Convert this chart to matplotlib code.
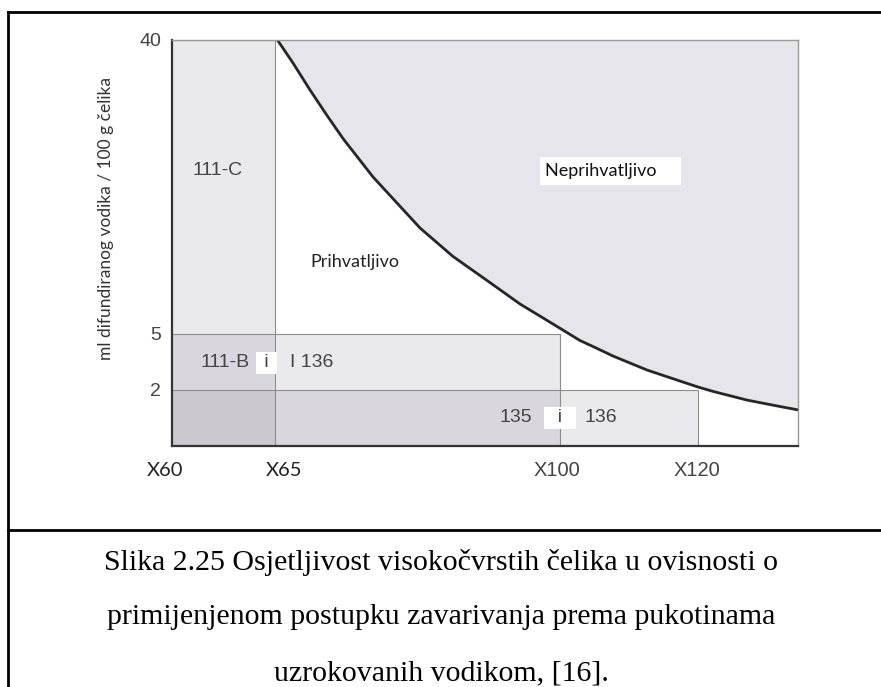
import matplotlib.pyplot as plt
import numpy as np
from matplotlib.lines import Line2D
from matplotlib.transforms import offset_copy

# granice čvrstoće čelika (os x) i sadržaj vodika (os y)
grades = [60, 65, 100, 120]
grade_labels = ['X60', 'X65', 'X100', 'X120']
x_end = 135
h_ticks = [40, 5, 2]
h_top = 40

# granična krivulja (očitano sa slike)
curve_x = [65.3, 67.21, 69.30, 71.39, 73.35, 77.04, 82.81, 86.86, 91.04,
           95.09, 99.14, 102.90, 104.78, 107.68, 112.61, 117.39, 120.0,
           122.25, 127.35, 132.3, 135.0]
curve_y = [40.0, 37.26, 34.05, 31.01, 28.27, 23.69, 17.62, 14.23, 11.37,
           8.57, 6.19, 4.65, 4.33, 3.82, 3.07, 2.48, 2.16,
           1.95, 1.64, 1.41, 1.29]

# postupci zavarivanja: do koje čvrstoće i do kojeg sadržaja vodika
proc_x = [65, 100, 120]
proc_h = [40, 5, 2]

# skale na slici nisu linearne
x_knots = [60, 65, 100, 120, 135]
x_px = [0, 103, 388, 526, 626]
y_knots = [0, 2, 5, 40]
y_px = [0, 56, 112, 406]


def fx(v):
    return np.interp(v, x_knots, x_px)


def ix(v):
    return np.interp(v, x_px, x_knots)


def fy(v):
    return np.interp(v, y_knots, y_px)


def iy(v):
    return np.interp(v, y_px, y_knots)


W, H = 881, 687
fig = plt.figure(figsize=(W / 100, H / 100), dpi=100)
ax = fig.add_axes([172 / W, 241 / H, 626 / W, 406 / H])
ax.set_xscale('function', functions=(fx, ix))
ax.set_yscale('function', functions=(fy, iy))
ax.set_xlim(60, x_end)
ax.set_ylim(0, h_top)

# neprihvatljivo područje iznad krivulje
ax.fill_between(curve_x, curve_y, h_top, color='#e5e5eb', lw=0)

# prozirni pravokutnici - preklapanja su tamnija
for xm, hm in zip(proc_x, proc_h):
    ax.fill_between([60, xm], 0, hm, color='#877f94', alpha=0.17, lw=0)
    ax.plot([60, xm, xm], [hm, hm, 0], color='#8e8e8e', lw=0.8)

ax.plot(curve_x, curve_y, color='#262626', lw=2, solid_capstyle='round')

for s in ['left', 'bottom']:
    ax.spines[s].set_color('#333333')
    ax.spines[s].set_linewidth(1.6)
for s in ['top', 'right']:
    ax.spines[s].set_color('#9a9a9a')
    ax.spines[s].set_linewidth(1.0)

ax.set_xticks([])
ax.set_yticks(h_ticks)
ax.set_yticklabels([str(h) for h in h_ticks])
ax.xaxis.set_minor_locator(plt.NullLocator())
ax.yaxis.set_minor_locator(plt.NullLocator())
ax.tick_params(axis='y', length=0, pad=8, labelsize=14, labelcolor='#444444')
for lab in ax.get_yticklabels():
    lab.set_fontfamily('Liberation Sans')

# oznake osi x, malo pomaknute kao na slici
x_shift = [-7, 9, -3, -1]
for g, lab, dx in zip(grades, grade_labels, x_shift):
    tr = offset_copy(ax.transData, fig, x=dx, y=-24, units='dots')
    if g < 100:
        ax.text(g, 0, lab, transform=tr, ha='center', va='center',
                fontsize=14.5, family='Lato', color='#222222')
    else:
        ax.text(g, 0, lab, transform=tr, ha='center', va='center',
                fontsize=14.5, family='Liberation Sans', color='#444444')

# natpisi u dijagramu
txt = dict(fontsize=14, color='#444444', family='Liberation Sans', va='center')
ax.text(61.0, 24.5, '111-C', ha='left', **txt)
ax.text(74.8, 13.6, 'Prihvatljivo', fontsize=13, color='#222222',
        family='Lato', ha='center', va='center')
ax.text(98.2, 24.4, 'Neprihvatljivo    ', fontsize=13, color='#111111',
        family='Lato', ha='left', va='center',
        bbox=dict(facecolor='white', edgecolor='none', pad=4))

ax.text(61.36, 3.45, '111-B', ha='left', **txt)
ax.text(64.6, 3.45, ' i ', ha='center',
        bbox=dict(facecolor='white', edgecolor='none', pad=2), **txt)
ax.text(66.8, 3.45, 'I 136', ha='left', **txt)

ax.text(92.6, 1.0, '135', ha='left', **txt)
ax.text(100, 1.0, '  i  ', ha='center',
        bbox=dict(facecolor='white', edgecolor='none', pad=2), **txt)
ax.text(103.5, 1.0, '136', ha='left', **txt)

fig.text(106 / W, 1 - 219 / H, 'ml difundiranog vodika / 100 g čelika',
         rotation=90, ha='center', va='center', fontsize=12.5,
         color='#333333', family='Lato')

# okvir slike i opis
lw_frame = 2
fig.add_artist(Line2D([8 / W, 8 / W], [0, 1 - 12 / H],
                      transform=fig.transFigure, color='black', lw=lw_frame))
fig.add_artist(Line2D([8 / W, 1], [1 - 12 / H, 1 - 12 / H],
                      transform=fig.transFigure, color='black', lw=lw_frame))
fig.add_artist(Line2D([8 / W, 1], [1 - 530 / H, 1 - 530 / H],
                      transform=fig.transFigure, color='black', lw=lw_frame))

caption = ['Slika 2.25 Osjetljivost visokočvrstih čelika u ovisnosti o',
           'primijenjenom postupku zavarivanja prema pukotinama',
           'uzrokovanih vodikom, [16].']
for k, line in enumerate(caption):
    fig.text(441 / W, 1 - (562 + 55.5 * k) / H, line, ha='center',
             va='center', fontsize=21.5, family='Liberation Serif',
             color='black')

fig.savefig('out.png', dpi=100)
